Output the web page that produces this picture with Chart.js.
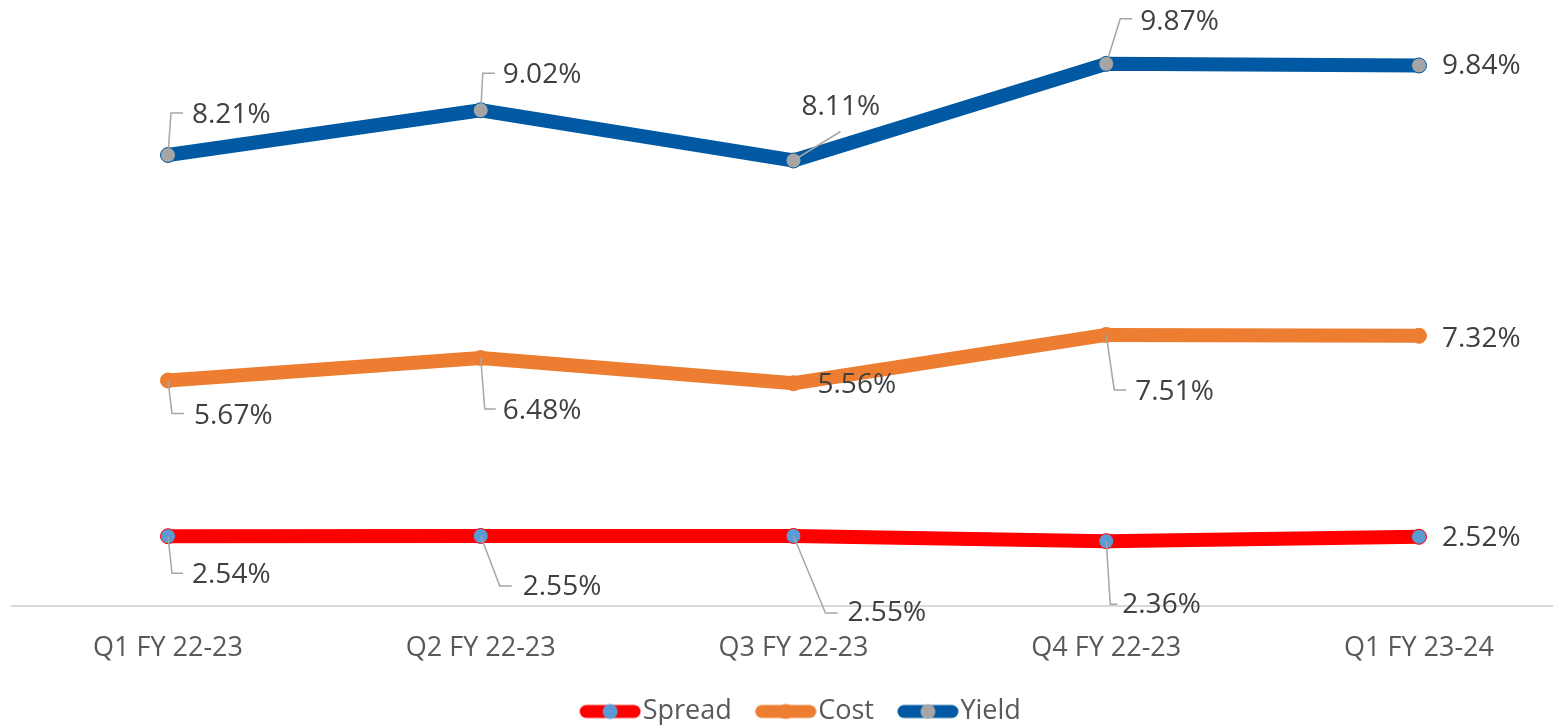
<!DOCTYPE html>
<html>
<head>
<meta charset="utf-8">
<script src="https://cdn.jsdelivr.net/npm/chart.js@4"></script>
<style>
    html, body { margin: 0; padding: 0; background: #fff; overflow: hidden; }
    #wrap { width: 1553px; height: 725px; position: relative; }
</style>
</head>
<body>
<div id="wrap"><canvas id="chart"></canvas></div>
<script>
    let quarters = ['Q1 FY 22-23', 'Q2 FY 22-23', 'Q3 FY 22-23', 'Q4 FY 22-23', 'Q1 FY 23-24']
    let spread = [2.54, 2.55, 2.55, 2.36, 2.52]
    let cost = [5.67, 6.48, 5.56, 7.51, 7.32]
    let yieldPct = [8.21, 9.02, 8.11, 9.87, 9.84]

    // label placement per point: [dx, dy] of text left/middle, leader polyline relative to the point
    let spreadLabels = [
        {dx: 24, dy: 39, leader: [[0, 0], [4, 37], [15, 37]]},
        {dx: 42, dy: 51, leader: [[0, 0], [19, 50], [31, 50]]},
        {dx: 54, dy: 77, leader: [[0, 0], [32, 77], [44, 77]]},
        {dx: 16, dy: 64, leader: [[0, 0], [4, 63], [11, 63]]},
        {dx: 23, dy: 1},
    ]
    let costLabels = [
        {dx: 26, dy: 36, leader: [[0, 0], [4, 33], [16, 33]]},
        {dx: 22, dy: 53, leader: [[0, 0], [4, 51], [15, 51]]},
        {dx: 24, dy: 2},
        {dx: 29, dy: 57, leader: [[0, 0], [8, 55], [20, 55]]},
        {dx: 23, dy: 3},
    ]
    let yieldLabels = [
        {dx: 24, dy: -40, leader: [[0, 0], [3, -42], [15, -42]]},
        {dx: 22, dy: -35, leader: [[0, 0], [2, -37], [14, -37]]},
        {dx: 8, dy: -53, leader: [[0, 0], [47, -29]]},
        {dx: 34, dy: -42, leader: [[0, 0], [14, -45], [26, -45]]},
        {dx: 23, dy: 1},
    ]

    let colors = {
        spread: '#FF0000',
        cost: '#ED7D31',
        yield: '#0059A2',
    }
    let markers = {
        spread: '#5B9BD5',
        cost: '#ED7D31',
        yield: '#A5A5A5',
    }

    const FONT = "'Open Sans', 'DejaVu Sans', sans-serif"

    function swatch(line, dot) {
        let c = document.createElement('canvas')
        c.width = 87
        c.height = 18
        let ctx = c.getContext('2d')
        ctx.strokeStyle = line
        ctx.lineWidth = 13
        ctx.lineCap = 'round'
        ctx.beginPath()
        ctx.moveTo(25 + 7, 9)
        ctx.lineTo(87 - 7, 9)
        ctx.stroke()
        ctx.fillStyle = dot
        ctx.beginPath()
        ctx.arc(25 + 31, 9, 7.5, 0, Math.PI * 2)
        ctx.fill()
        return c
    }
    let swatches = [
        swatch(colors.spread, markers.spread),
        swatch(colors.cost, markers.cost),
        swatch(colors.yield, markers.yield),
    ]

    const axisLine = {
        id: 'axisLine',
        beforeDatasetsDraw(chart) {
            let ctx = chart.ctx
            let y = chart.chartArea.bottom
            ctx.save()
            ctx.strokeStyle = '#D9D9D9'
            ctx.lineWidth = 2
            ctx.beginPath()
            ctx.moveTo(11, y)
            ctx.lineTo(chart.width, y)
            ctx.stroke()
            ctx.restore()
        },
    }

    const pointLabels = {
        id: 'pointLabels',
        afterDatasetsDraw(chart) {
            let ctx = chart.ctx
            ctx.save()
            chart.data.datasets.forEach((ds, di) => {
                let meta = chart.getDatasetMeta(di)
                meta.data.forEach((pt, i) => {
                    let cfg = ds.labelPlacement[i]
                    if (cfg.leader) {
                        ctx.strokeStyle = '#A6A6A6'
                        ctx.lineWidth = 1.5
                        ctx.beginPath()
                        cfg.leader.forEach(([lx, ly], k) => {
                            if (k === 0) ctx.moveTo(pt.x + lx, pt.y + ly)
                            else ctx.lineTo(pt.x + lx, pt.y + ly)
                        })
                        ctx.stroke()
                    }
                    ctx.fillStyle = '#404040'
                    ctx.font = '28px ' + FONT
                    ctx.textAlign = 'left'
                    ctx.textBaseline = 'middle'
                    ctx.fillText(ds.data[i].toFixed(2) + '%', pt.x + cfg.dx, pt.y + cfg.dy)
                })
            })
            ctx.restore()
        },
    }

    function series(label, data, key, placement) {
        return {
            label,
            data,
            labelPlacement: placement,
            borderColor: colors[key],
            backgroundColor: colors[key],
            borderWidth: 14,
            borderCapStyle: 'round',
            borderJoinStyle: 'round',
            tension: 0,
            fill: false,
            pointRadius: 7.5,
            pointHoverRadius: 7.5,
            pointBackgroundColor: markers[key],
            pointBorderColor: colors[key],
            pointBorderWidth: 1,
        }
    }

    new Chart(document.getElementById('chart'), {
        type: 'line',
        data: {
            labels: quarters,
            datasets: [
                series('Spread', spread, 'spread', spreadLabels),
                series('Cost', cost, 'cost', costLabels),
                series('Yield', yieldPct, 'yield', yieldLabels),
            ],
        },
        options: {
            responsive: true,
            maintainAspectRatio: false,
            animation: false,
            layout: {
                padding: {left: 168, right: 134, top: 10, bottom: -10},
            },
            scales: {
                x: {
                    offset: false,
                    grid: {display: false, drawTicks: false},
                    border: {display: false},
                    afterFit(scale) {
                        scale.height = 82
                    },
                    ticks: {
                        padding: 26,
                        color: '#595959',
                        font: {family: FONT, size: 27},
                        maxRotation: 0,
                        autoSkip: false,
                    },
                },
                y: {
                    display: false,
                    stacked: true,
                    min: 0,
                    max: 21.7,
                },
            },
            plugins: {
                tooltip: {enabled: false},
                legend: {
                    position: 'bottom',
                    labels: {
                        usePointStyle: true,
                        pointStyleWidth: 63,
                        padding: 10,
                        color: '#595959',
                        font: {family: FONT, size: 27},
                        generateLabels(chart) {
                            let items = Chart.defaults.plugins.legend.labels.generateLabels(chart)
                            items.forEach((item, i) => {
                                item.pointStyle = swatches[i]
                            })
                            return items
                        },
                    },
                },
            },
        },
        plugins: [axisLine, pointLabels],
    })
</script>
</body>
</html>
